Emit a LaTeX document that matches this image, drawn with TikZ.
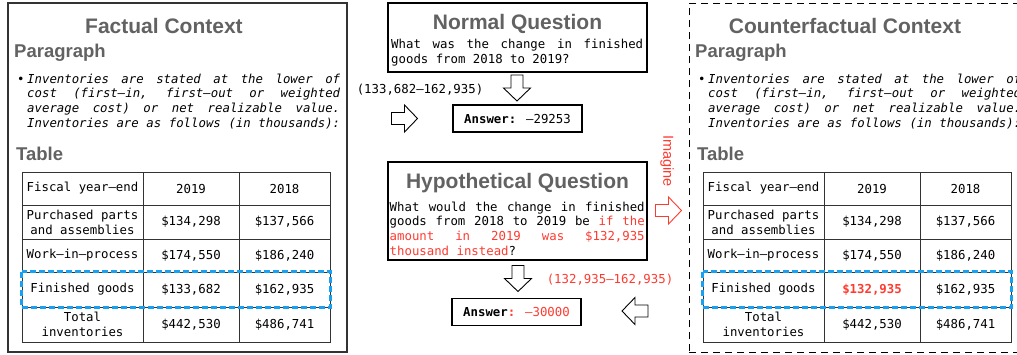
\documentclass[tikz,border=0pt]{standalone}
\usepackage{fontspec}
\newfontfamily\hfont{Liberation Sans}
\newfontfamily\mono{DejaVu Sans Mono}
\definecolor{tgray}{HTML}{626262}
\definecolor{myred}{HTML}{FF3B30}
\definecolor{myblue}{HTML}{1AA0F0}
\definecolor{boxgray}{HTML}{333333}
\newcommand\jl[2]{\hbox to #1{\spaceskip=0.602em plus 1fil\relax #2}}
\newcommand\monosize{\fontsize{12.35}{15}\selectfont}
\newcommand\context[4]{%
  \node[#4, minimum width=339pt, minimum height=349pt] (#1box) at (177.5,177.5) {};
  \node[ctitle] (#1title) at (164,33) {#2};
  \node[sub] (#1parhead) at (14,57) {Paragraph};
  \node[qtext] (#1bullet) at (17,83) {•};
  \node[para] (#1p1) at (27,83) {\jl{313pt}{Inventories are stated at the lower of}};
  \node[para] (#1p2) at (27,97.8) {\jl{313pt}{cost (first–in, first–out or weighted}};
  \node[para] (#1p3) at (27,112.6) {\jl{313pt}{average cost) or net realizable value.}};
  \node[para] (#1p4) at (27,127.4) {\jl{313pt}{Inventories are as follows (in thousands):}};
  \node[sub] (#1tabhead) at (16,160) {Table};
  \node[cell, minimum width=121pt, minimum height=33pt] (#1a1) at (82.5,188.5) {Fiscal year–end};
  \node[cell, minimum width=96pt, minimum height=33pt] (#1b1) at (191,188.5) {2019};
  \node[cell, minimum width=91pt, minimum height=33pt] (#1c1) at (284.5,188.5) {2018};
  \node[cell, minimum width=121pt, minimum height=34pt] (#1a2) at (82.5,222) {Purchased parts\\and assemblies};
  \node[cell, minimum width=96pt, minimum height=34pt] (#1b2) at (191,222) {\$134,298};
  \node[cell, minimum width=91pt, minimum height=34pt] (#1c2) at (284.5,222) {\$137,566};
  \node[cell, minimum width=121pt, minimum height=33pt] (#1a3) at (82.5,255.5) {Work–in–process};
  \node[cell, minimum width=96pt, minimum height=33pt] (#1b3) at (191,255.5) {\$174,550};
  \node[cell, minimum width=91pt, minimum height=33pt] (#1c3) at (284.5,255.5) {\$186,240};
  \node[cell, minimum width=121pt, minimum height=35pt] (#1a4) at (82.5,289.5) {Finished goods};
  \node[cell, minimum width=96pt, minimum height=35pt] (#1b4) at (191,289.5) {#3};
  \node[cell, minimum width=91pt, minimum height=35pt] (#1c4) at (284.5,289.5) {\$162,935};
  \node[cell, minimum width=121pt, minimum height=35pt] (#1a5) at (82.5,324.5) {Total\\inventories};
  \node[cell, minimum width=96pt, minimum height=35pt] (#1b5) at (191,324.5) {\$442,530};
  \node[cell, minimum width=91pt, minimum height=35pt] (#1c5) at (284.5,324.5) {\$486,741};
  \draw[hl] (#1a4.north west) rectangle (#1c4.south east);
}
\begin{document}
\begin{tikzpicture}[x=1pt,y=-1pt,
  ctitle/.style={font=\hfont\bfseries\fontsize{21}{25}\selectfont, text=tgray, inner sep=0, anchor=base},
  sub/.style={font=\hfont\bfseries\fontsize{18.5}{22}\selectfont, text=tgray, inner sep=0, anchor=base west},
  para/.style={font=\mono\itshape\monosize, inner sep=0, anchor=base west},
  qtext/.style={font=\mono\monosize, inner sep=0, anchor=base west},
  cell/.style={draw=boxgray, line width=0.9pt, inner sep=0, align=center, font=\mono\monosize},
  hl/.style={draw=myblue, line width=2.6pt, dash pattern=on 6pt off 3pt},
  solidbox/.style={draw=boxgray, line width=1.3pt},
  dashbox/.style={draw=black, line width=1pt, dash pattern=on 7pt off 5pt},
  qbox/.style={draw=black, line width=1.2pt, inner sep=0},
  ansbox/.style={draw=black, line width=1.2pt, inner sep=0, minimum width=129pt, minimum height=27pt, font=\mono\monosize},
  barr/.pic={\draw[line width=0.9pt, line join=miter, pic actions] (-13,-6) -- (0,-6) -- (0,-13.5) -- (13,0) -- (0,13.5) -- (0,6) -- (-13,6) -- cycle;},
]
\useasboundingbox (0,0) rectangle (1017,354);
\clip (0,0) rectangle (1017,354);
\fill[white] (0,0) rectangle (1017,354);

\context{l}{Factual Context}{\$133,682}{solidbox}
\begin{scope}[xshift=681pt]
\context{r}{Counterfactual Context}{\textcolor{myred}{\textbf{\$132,935}}}{dashbox}
\end{scope}

% Normal question
\node[qbox, minimum width=259pt, minimum height=69pt] (nq) at (517.5,37.5) {};
\node[ctitle] (nqtitle) at (517.5,29) {Normal Question};
\node[qtext] (nq1) at (391,48) {\jl{252pt}{What was the change in finished}};
\node[qtext] (nq2) at (391,63.5) {goods from 2018 to 2019?};
\pic[rotate=-90] (nqarrow) at (517,88) {barr};
\node[qtext, anchor=base] (nqcalc) at (420,93) {(133,682–162,935)};
\pic (nqright) at (404.5,118.5) {barr};
\node[ansbox] (ans1) at (517.5,118.5) {\textbf{Answer:} –29253};

% Hypothetical question
\node[qbox, minimum width=259pt, minimum height=98pt] (hq) at (517.5,211) {};
\node[ctitle] (hqtitle) at (517.5,188) {Hypothetical Question};
\node[qtext] (hq1) at (389.5,211) {\jl{255pt}{What would the change in finished}};
\node[qtext] (hq2) at (389.5,225.7) {\jl{255pt}{goods from 2018 to 2019 be \textcolor{myred}{if the}}};
\node[qtext] (hq3) at (389.5,240.4) {\jl{255pt}{\color{myred}amount in 2019 was \$132,935}};
\node[qtext] (hq4) at (389.5,255.1) {\textcolor{myred}{thousand instead}?};
\pic[rotate=-90] (hqarrow) at (518,278.5) {barr};
\node[qtext, anchor=base, text=myred] (hqcalc) at (610,283) {(132,935–162,935)};
\node[ansbox] (ans2) at (516.5,312) {\textbf{Answer}\textcolor{myred}{\textbf{:} –30000}};
\pic[rotate=180] (hqleft) at (635,311) {barr};

% Imagine
\node[font=\hfont\fontsize{14.5}{17}\selectfont, text=myred, rotate=-90, inner sep=0] (imagine) at (667,161) {Imagine};
\pic[draw=myred] (imarrow) at (668.5,210.5) {barr};
\end{tikzpicture}
\end{document}
